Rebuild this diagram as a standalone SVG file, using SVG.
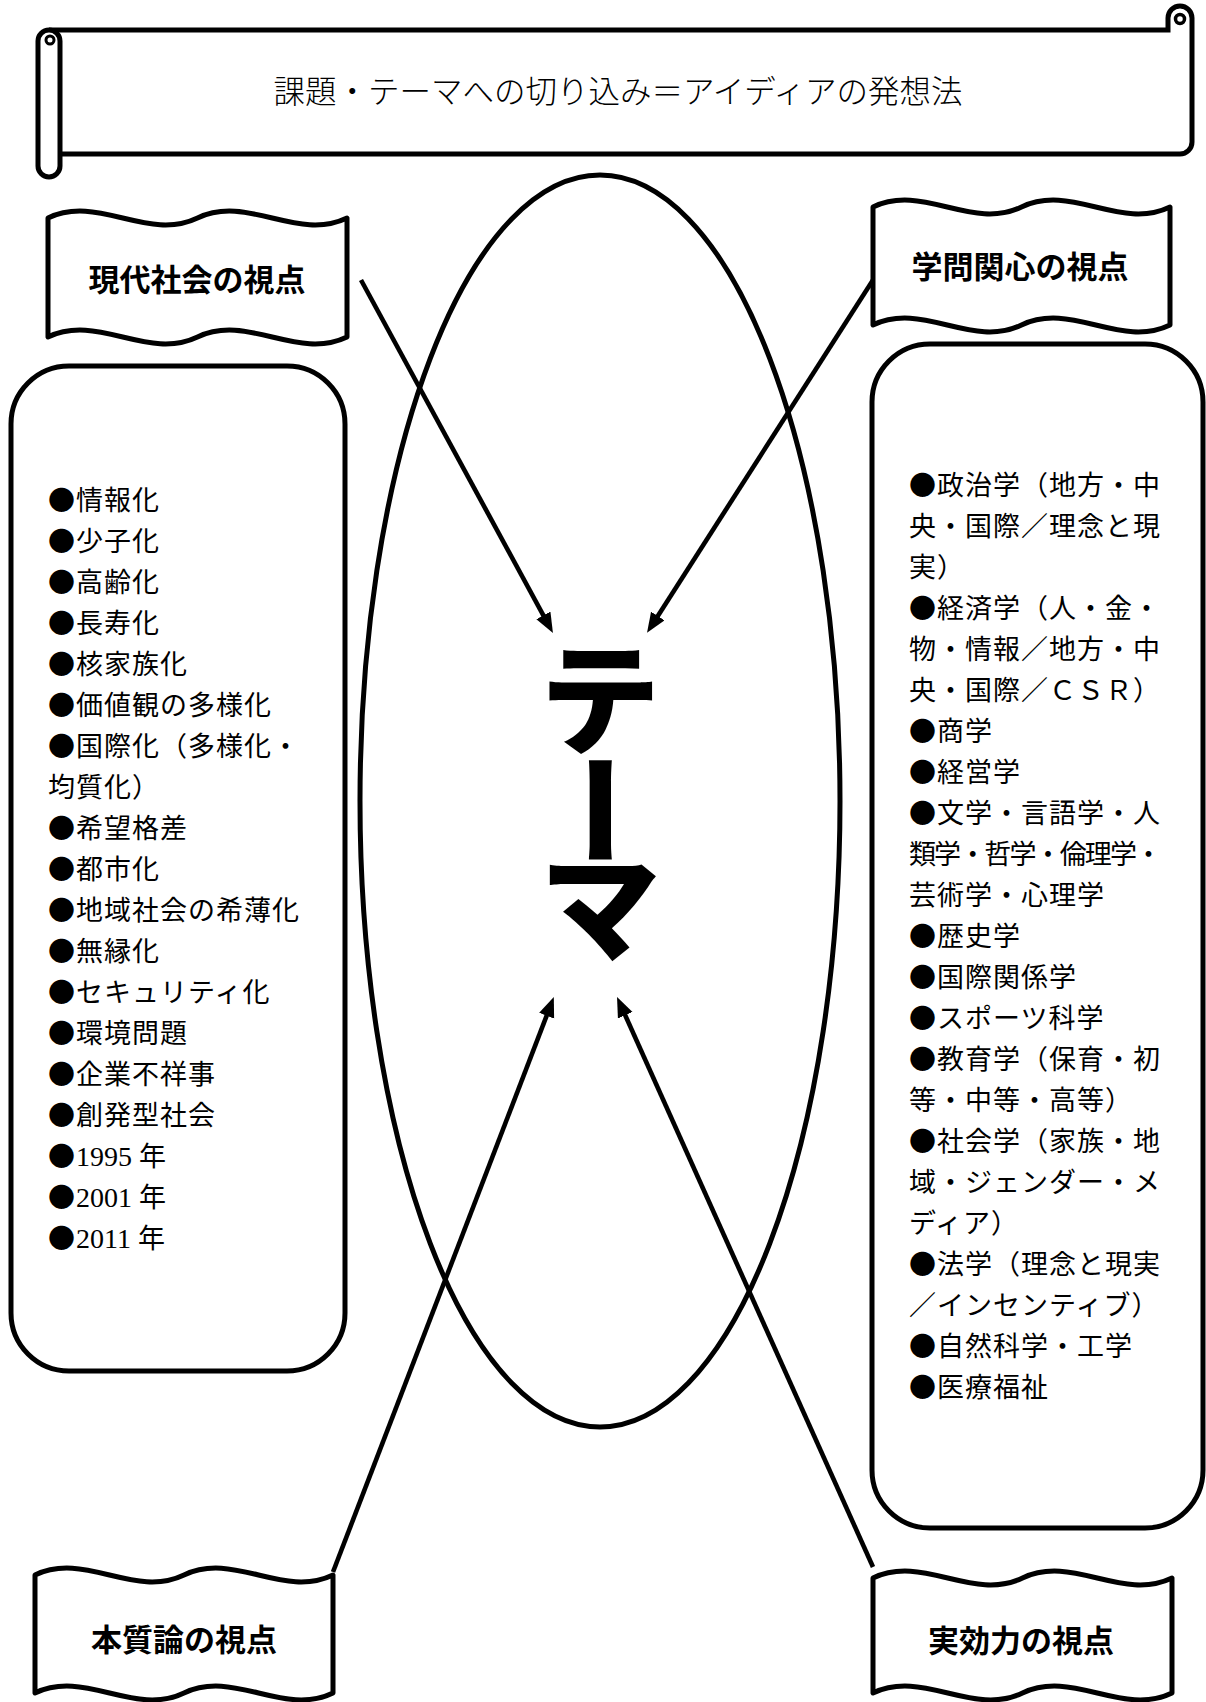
<svg xmlns="http://www.w3.org/2000/svg" width="1206" height="1702" viewBox="0 0 1206 1702">
<style>
.sh{fill:#fff;stroke:#000;stroke-width:5;stroke-linejoin:round}
.ol{fill:none;stroke:#000;stroke-width:5}
.cn{fill:none;stroke:#000;stroke-width:4.6}
.li{font-family:"Noto Sans CJK JP",sans-serif;font-size:27px;letter-spacing:1px;fill:#000}
.lat{font-family:"Liberation Serif",serif;font-size:28px;letter-spacing:0}
.bn{font-family:"Noto Sans CJK JP",sans-serif;font-size:31px;font-weight:700;text-anchor:middle;fill:#000}
.tt{font-family:"Noto Sans CJK JP",sans-serif;font-size:31.5px;font-weight:300;text-anchor:middle;fill:#000}
.big{font-family:"Noto Sans CJK JP",sans-serif;font-size:120px;font-weight:900;text-anchor:middle;fill:#000}
</style>
<defs>
<marker id="ah" markerUnits="userSpaceOnUse" markerWidth="22" markerHeight="18" refX="13" refY="8" orient="auto">
<path d="M0,0 L20,8 L0,16 Z" fill="#000"/>
</marker>
</defs>
<rect width="1206" height="1702" fill="#fff"/>

<g id="title">
<rect x="49" y="30" width="1143" height="124" fill="#fff"/>
<path class="ol" d="M49,30 H1168 V18 A12,12 0 0 1 1192,18 V142 A12,12 0 0 1 1180,154 H60"/>
<path class="sh" d="M38,41 A11,11 0 0 1 60,41 V166 A11,11 0 0 1 38,166 Z"/>
<circle cx="50" cy="40" r="4" fill="none" stroke="#000" stroke-width="3"/>
<circle cx="1180" cy="19" r="4.5" fill="none" stroke="#000" stroke-width="3.5"/>
<text class="tt" x="618" y="103">課題・テーマへの切り込み＝アイディアの発想法</text>
</g>

<g id="theme">
<ellipse class="ol" cx="600" cy="801" rx="240" ry="626"/>
<text class="big" x="600" y="745">テ</text>
<text class="big" x="600" y="856" transform="rotate(90 600 810)">ー</text>
<text class="big" x="600" y="952">マ</text>
</g>

<g id="connectors">
<line class="cn" x1="361" y1="280" x2="549.6" y2="626.8" marker-end="url(#ah)"/>
<line class="cn" x1="873" y1="280" x2="650.8" y2="626.9" marker-end="url(#ah)"/>
<line class="cn" x1="333" y1="1572" x2="551.3" y2="1003.6" marker-end="url(#ah)"/>
<line class="cn" x1="873" y1="1567" x2="619.9" y2="1003.4" marker-end="url(#ah)"/>
</g>

<g id="banner-modern">
<path class="sh" d="M48,218 C97.8,194 147.7,242 197.5,218 C247.3,194 297.2,242 347,218 L347,337 C297.2,361 247.3,313 197.5,337 C147.7,361 97.8,313 48,337 Z"/>
<text class="bn" x="197" y="291">現代社会の視点</text>
</g>

<g id="banner-academic">
<path class="sh" d="M873,207 C922.5,183 972,231 1021.5,207 C1071,183 1120.5,231 1170,207 L1170,325 C1120.5,349 1071,301 1021.5,325 C972,349 922.5,301 873,325 Z"/>
<text class="bn" x="1020" y="278">学問関心の視点</text>
</g>

<g id="banner-essence">
<path class="sh" d="M35,1575 C84.7,1551 134.3,1599 184,1575 C233.7,1551 283.3,1599 333,1575 L333,1693 C283.3,1717 233.7,1669 184,1693 C134.3,1717 84.7,1669 35,1693 Z"/>
<text class="bn" x="184" y="1651">本質論の視点</text>
</g>

<g id="banner-effect">
<path class="sh" d="M873,1578 C922.8,1554 972.7,1602 1022.5,1578 C1072.3,1554 1122.2,1602 1172,1578 L1172,1693 C1122.2,1717 1072.3,1669 1022.5,1693 C972.7,1717 922.8,1669 873,1693 Z"/>
<text class="bn" x="1021" y="1652">実効力の視点</text>
</g>

<g id="box-society">
<rect class="sh" x="11" y="366" width="334" height="1005" rx="58" ry="58"/>
<text class="li" x="48" y="510.4">●情報化</text>
<text class="li" x="48" y="551.4">●少子化</text>
<text class="li" x="48" y="592.3">●高齢化</text>
<text class="li" x="48" y="633.3">●長寿化</text>
<text class="li" x="48" y="674.3">●核家族化</text>
<text class="li" x="48" y="715.3">●価値観の多様化</text>
<text class="li" x="48" y="756.2">●国際化（多様化・</text>
<text class="li" x="48" y="797.2">均質化）</text>
<text class="li" x="48" y="838.2">●希望格差</text>
<text class="li" x="48" y="879.1">●都市化</text>
<text class="li" x="48" y="920.1">●地域社会の希薄化</text>
<text class="li" x="48" y="961.1">●無縁化</text>
<text class="li" x="48" y="1002">●セキュリティ化</text>
<text class="li" x="48" y="1043">●環境問題</text>
<text class="li" x="48" y="1084">●企業不祥事</text>
<text class="li" x="48" y="1125">●創発型社会</text>
<text class="li" x="48" y="1165.9">●<tspan class="lat">1995 </tspan>年</text>
<text class="li" x="48" y="1206.9">●<tspan class="lat">2001 </tspan>年</text>
<text class="li" x="48" y="1247.9">●<tspan class="lat">2011 </tspan>年</text>
</g>

<g id="box-academic">
<rect class="sh" x="872" y="344" width="331" height="1184" rx="58" ry="58"/>
<text class="li" x="909" y="495.2">●政治学（地方・中</text>
<text class="li" x="909" y="536.2">央・国際／理念と現</text>
<text class="li" x="909" y="577.1">実）</text>
<text class="li" x="909" y="618.1">●経済学（人・金・</text>
<text class="li" x="909" y="659.1">物・情報／地方・中</text>
<text class="li" x="909" y="700.1">央・国際／ＣＳＲ）</text>
<text class="li" x="909" y="741">●商学</text>
<text class="li" x="909" y="782">●経営学</text>
<text class="li" x="909" y="823">●文学・言語学・人</text>
<text class="li" x="909" y="863.9" textLength="254" lengthAdjust="spacing">類学・哲学・倫理学・</text>
<text class="li" x="909" y="904.9">芸術学・心理学</text>
<text class="li" x="909" y="945.9">●歴史学</text>
<text class="li" x="909" y="986.8">●国際関係学</text>
<text class="li" x="909" y="1027.8">●スポーツ科学</text>
<text class="li" x="909" y="1068.8">●教育学（保育・初</text>
<text class="li" x="909" y="1109.8">等・中等・高等）</text>
<text class="li" x="909" y="1150.7">●社会学（家族・地</text>
<text class="li" x="909" y="1191.7">域・ジェンダー・メ</text>
<text class="li" x="909" y="1232.7">ディア）</text>
<text class="li" x="909" y="1273.6">●法学（理念と現実</text>
<text class="li" x="909" y="1314.6">／インセンティブ）</text>
<text class="li" x="909" y="1355.6">●自然科学・工学</text>
<text class="li" x="909" y="1396.5">●医療福祉</text>
</g>
</svg>
